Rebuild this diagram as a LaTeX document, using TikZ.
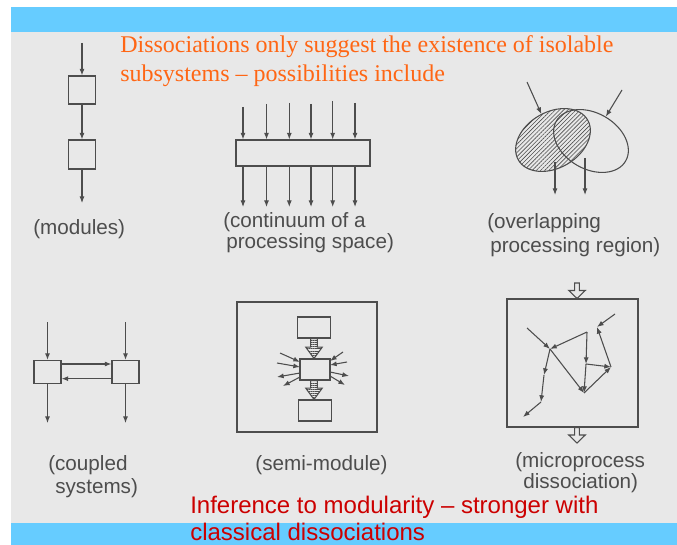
\documentclass[tikz,border=0pt]{standalone}
\usepackage{fontspec}
\setmainfont{Liberation Serif}
\newfontfamily\arialf{Liberation Sans}
\usetikzlibrary{arrows.meta,patterns.meta,shapes.geometric,calc}
\definecolor{barblue}{HTML}{66CCFF}
\definecolor{paper}{HTML}{E8E8E8}
\definecolor{ink}{HTML}{4D4D4D}
\definecolor{titleorange}{HTML}{FF6614}
\definecolor{infred}{HTML}{CC0000}
\def\pxu{0.75pt}
\tikzset{
  ln/.style={draw=ink, line width=0.8pt},
  arr/.style={ln, -{Latex[length=5pt,width=3.8pt]}},
  boxn/.style={draw=ink, line width=0.8pt, inner sep=0pt},
  lab/.style={font=\arialf\fontsize{15.5}{18}\selectfont, text=ink, inner sep=0pt, anchor=west},
  ttl/.style={font=\fontsize{18}{22}\selectfont, text=titleorange, inner sep=0pt, anchor=base west},
  inf/.style={font=\arialf\fontsize{18}{22}\selectfont, text=infred, inner sep=0pt, anchor=base west},
}
% hollow downward arrow: #1 extra style, #2 from, #3 to, #4 shaft half, #5 head half, #6 head length
\newcommand\hollowarr[6]{%
  \path[ln, fill=paper, #1] let \p1=(#2), \p2=(#3) in
    (\x1-#4,\y1) -- (\x1-#4,\y2+#6) -- (\x1-#5,\y2+#6) -- (\x1,\y2)
    -- (\x1+#5,\y2+#6) -- (\x1+#4,\y2+#6) -- (\x1+#4,\y1) -- cycle;}
\begin{document}
\begin{tikzpicture}[x=0.75pt,y=-0.75pt]
\useasboundingbox (0,0) rectangle (677,545);
\fill[white] (0,0) rectangle (677,545);
\fill[paper] (11,32) rectangle (677,523);
\fill[barblue] (11,7) rectangle (677,32);
\fill[barblue] (11,523) rectangle (677,545);

% ---------- title ----------
\node[ttl] (t1) at (120,53) {Dissociations only suggest the existence of isolable};
\node[ttl] (t2) at (120,82) {subsystems – possibilities include};

% ---------- modules ----------
\node[boxn, minimum width=27*\pxu, minimum height=28*\pxu] (m1) at (82,90) {};
\node[boxn, minimum width=27*\pxu, minimum height=29*\pxu] (m2) at (82,154.5) {};
\coordinate (min) at (82,43);
\coordinate (mout) at (82,203);
\draw[arr] (min) -- (m1.north);
\draw[arr] (m1.south) -- (m2.north);
\draw[arr] (m2.south) -- (mout);
\node[lab] (lmod) at (33,229) {(modules)};

% ---------- continuum ----------
\node[boxn, minimum width=134*\pxu, minimum height=26*\pxu] (c) at (303,153) {};
\foreach \i/\xx/\yy in {1/243/107,2/266.5/104,3/289.3/103,4/311/104,5/332.7/101,6/355/103}{
  \coordinate (ci\i) at (\xx,\yy);
  \coordinate (co\i) at (\xx,207);
  \draw[arr] (ci\i) -- (ci\i |- c.north);
  \draw[arr] (ci\i |- c.south) -- (co\i);
}
\node[lab] (lc1) at (223,222.5) {(continuum of a};
\node[lab] (lc2) at (226,243) {processing space)};

% ---------- overlapping ----------
\node[ellipse, draw=ink, line width=0.8pt, inner sep=0pt, minimum width=80*\pxu, minimum height=56*\pxu,
      rotate=30, pattern={Lines[angle=45,distance=2.2pt,line width=0.45pt]}, pattern color=ink] (e1) at (553,140) {};
\node[ellipse, draw=ink, line width=0.8pt, inner sep=0pt, minimum width=80*\pxu, minimum height=56*\pxu,
      rotate=-30] (e2) at (591,141) {};
\coordinate (ea) at (527,82);
\coordinate (eb) at (622,90);
\draw[arr] (ea) -- (e1);
\draw[arr] (eb) -- (e2);
\coordinate (eo1) at (555,162);
\coordinate (eo1e) at (555,195);
\coordinate (eo2) at (585,158);
\coordinate (eo2e) at (585,195);
\draw[arr] (eo1) -- (eo1e);
\draw[arr] (eo2) -- (eo2e);
\node[lab] (lo1) at (487,223) {(overlapping};
\node[lab] (lo2) at (490,247) {processing region)};

% ---------- coupled systems ----------
\node[boxn, minimum width=27*\pxu, minimum height=23*\pxu] (cl) at (47.5,372) {};
\node[boxn, minimum width=27*\pxu, minimum height=23*\pxu] (cr) at (125.5,372) {};
\coordinate (cli) at (47.5,322);
\coordinate (clo) at (47.5,423);
\coordinate (cri) at (125.5,322);
\coordinate (cro) at (125.5,423);
\draw[arr] (cli) -- (cl.north);
\draw[arr] (cri) -- (cr.north);
\draw[arr] (cl.south) -- (clo);
\draw[arr] (cr.south) -- (cro);
\draw[arr] ([yshift=6pt]cl.east) -- ([yshift=6pt]cr.west);
\draw[arr] ([yshift=-5pt]cr.west) -- ([yshift=-5pt]cl.east);
\node[lab] (lcp1) at (48,465) {(coupled};
\node[lab] (lcp2) at (55,488) {systems)};

% ---------- semi-module ----------
\node[boxn, minimum width=140*\pxu, minimum height=130*\pxu] (so) at (307,367) {};
\node[boxn, minimum width=33*\pxu, minimum height=21*\pxu] (s1) at (314,327.5) {};
\node[boxn, minimum width=30*\pxu, minimum height=21*\pxu] (s2) at (315,369.5) {};
\node[boxn, minimum width=33*\pxu, minimum height=21*\pxu] (s3) at (315,410.5) {};
\hollowarr{pattern={Lines[angle=0,distance=1.6pt,line width=0.5pt]}, pattern color=ink}{s1.south}{s1.south |- s2.north}{2.5pt}{6.2pt}{8.5pt}
\hollowarr{pattern={Lines[angle=0,distance=1.6pt,line width=0.5pt]}, pattern color=ink}{s1.south |- s2.south}{s1.south |- s3.north}{2.5pt}{6.2pt}{8.5pt}
\foreach \n/\ax/\ay/\bx/\by in {a/280/353/300/362, b/277/363/300/367, c/343/352/330/361, d/347/362/330/365}{
  \coordinate (ri\n) at (\ax,\ay);
  \coordinate (re\n) at (\bx,\by);
  \draw[arr] (ri\n) -- (re\n);
}
\foreach \n/\ax/\ay/\bx/\by in {a/300/373/277/377, b/300/377/283/386, c/330/372/349/376, d/330/376/345/385}{
  \coordinate (rs\n) at (\ax,\ay);
  \coordinate (rt\n) at (\bx,\by);
  \draw[arr] (rs\n) -- (rt\n);
}
\node[lab, anchor=center] (lsm) at (321.5,465) {(semi-module)};

% ---------- microprocess ----------
\node[boxn, minimum width=131*\pxu, minimum height=128*\pxu] (mb) at (572.5,363) {};
\coordinate (mtop) at (577,283);
\coordinate (mbot) at (577,443);
\hollowarr{}{mtop}{mtop |- mb.north}{1.8pt}{6.2pt}{6pt}
\hollowarr{}{mbot |- mb.south}{mbot}{1.8pt}{6.2pt}{6pt}
\coordinate (p1) at (527,328);
\coordinate (hub) at (550,349);
\coordinate (t) at (587,332);
\coordinate (u) at (597,327);
\coordinate (p2) at (615,314);
\coordinate (mid) at (586,364);
\coordinate (bot) at (584,393);
\coordinate (r) at (611,367);
\coordinate (l1) at (544,375);
\coordinate (l2) at (541,402);
\coordinate (l3) at (523,417);
\draw[arr] (p1) -- (hub);
\draw[arr] (t) -- (hub);
\draw[arr] (hub) -- (l1);
\draw[arr] (l1) -- (l2);
\draw[arr] (l2) -- (l3);
\draw[arr] (hub) -- (bot);
\draw[arr] (p2) -- (u);
\draw[arr] (t) -- (mid);
\draw[arr] (mid) -- (bot);
\draw[arr] (mid) -- (r);
\draw[arr] (r) -- (u);
\draw[arr] (bot) -- (r);
\node[lab] (lm1) at (515,462) {(microprocess};
\node[lab] (lm2) at (523,483) {dissociation)};

% ---------- bottom text ----------
\node[inf] (b1) at (190,513) {Inference to modularity – stronger with};
\node[inf] (b2) at (190,540) {classical dissociations};
\end{tikzpicture}
\end{document}
